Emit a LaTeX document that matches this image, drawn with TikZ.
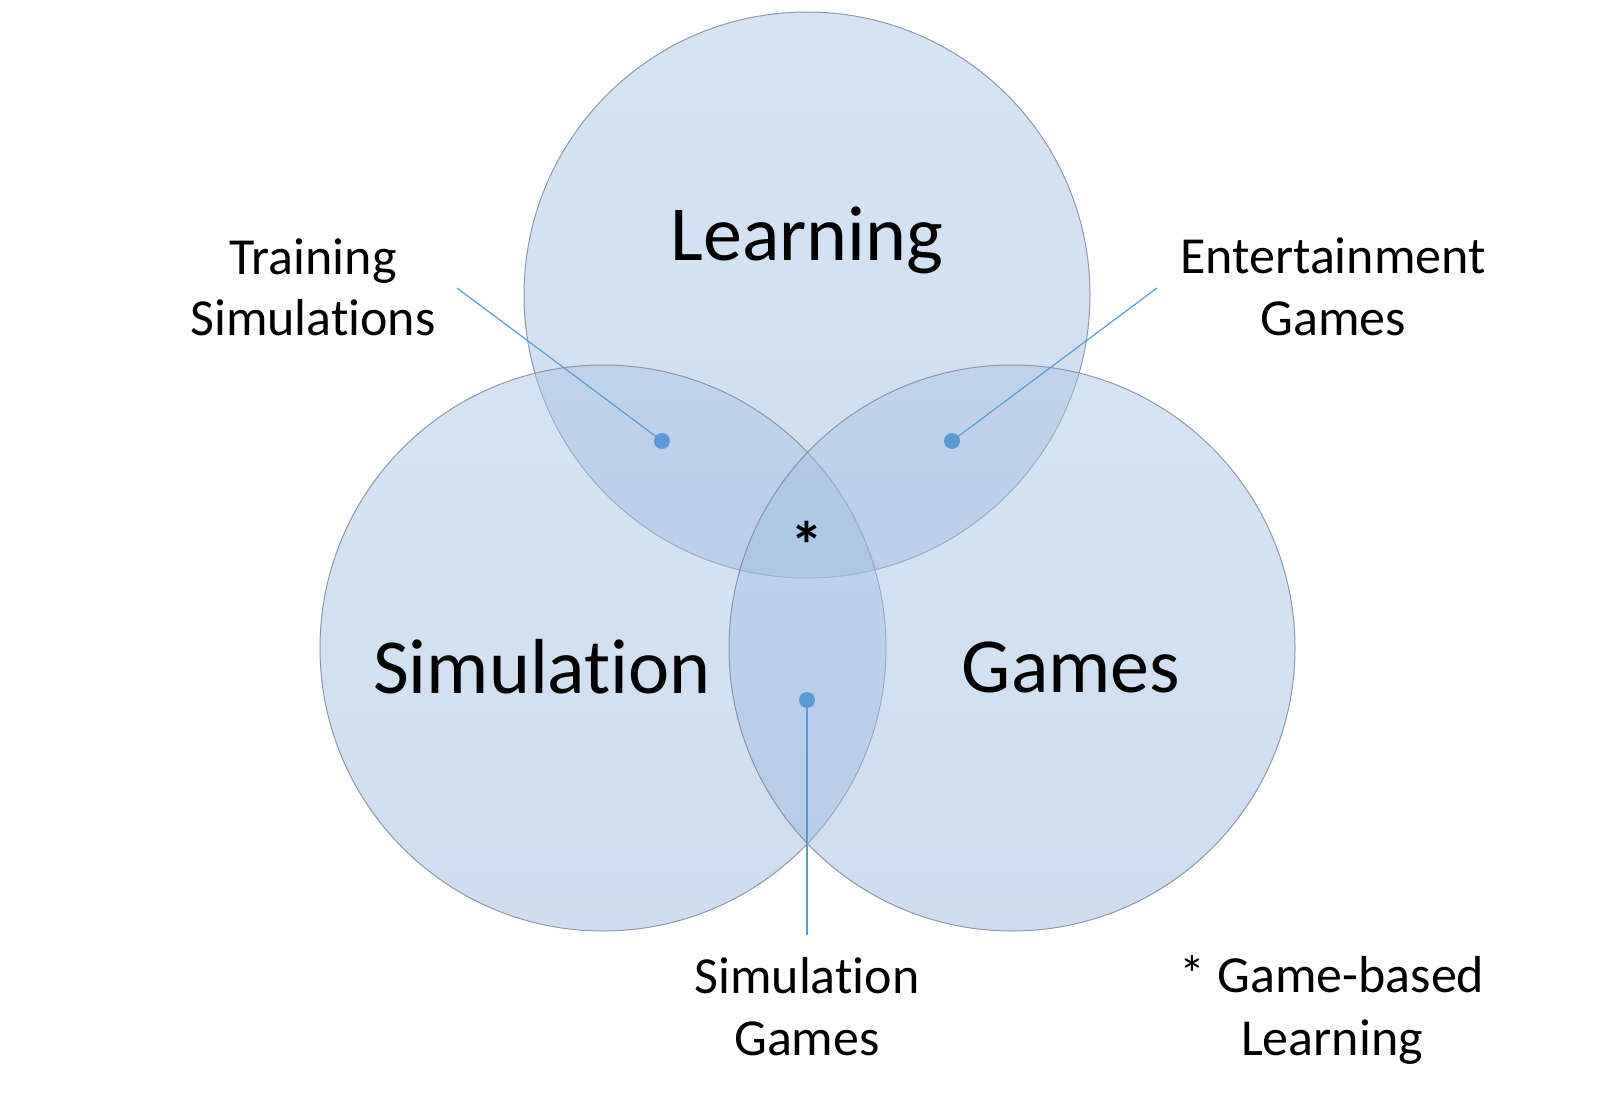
\documentclass[tikz,border=0pt]{standalone}
\usepackage{fontspec}
\setmainfont{Carlito}[Ligatures=NoCommon]
\definecolor{circtop}{RGB}{168,196,230}
\definecolor{circbot}{RGB}{150,182,222}
\definecolor{circline}{RGB}{120,132,150}
\definecolor{leader}{RGB}{91,155,213}
\tikzset{
  venn/.style={circle, minimum size=566pt, inner sep=0pt, top color=circtop, bottom color=circbot, fill opacity=0.46, draw=circline, draw opacity=0.8, line width=1pt},
  bigtxt/.style={font=\fontsize{78}{94}\selectfont, inner sep=0pt},
  smalltxt/.style={font=\fontsize{52}{62}\selectfont, inner sep=0pt, anchor=base},
  dotnode/.style={circle, fill=leader, minimum size=16pt, inner sep=0pt},
  leaderline/.style={draw=leader, line width=1.2pt}
}
\begin{document}
\begin{tikzpicture}[x=1pt, y=-1pt]
\useasboundingbox (0,0) rectangle (1614,1102);
\fill[white] (0,0) rectangle (1614,1102);
% circles
\node[venn] (learn) at (807,295) {};
\node[venn] (sim) at (603,648) {};
\node[venn] (games) at (1012,648) {};
% big labels
\node[bigtxt] (tlearn) at (807,240) {Learning};
\node[bigtxt] (tsim) at (542,667) {Simulation};
\node[bigtxt] (tgames) at (1071,667) {Games};
% star
\node[inner sep=0pt, font=\fontsize{66}{80}\bfseries\selectfont, anchor=base] (star) at (807,568) {*};
% dots
\node[dotnode] (d1) at (662,441) {};
\node[dotnode] (d2) at (952,441) {};
\node[dotnode] (d3) at (807,700) {};
% leader ends
\coordinate (e1) at (457,288);
\coordinate (e2) at (1157,288);
\coordinate (e3) at (807,935);
\draw[leaderline] (d1.center) -- (e1);
\draw[leaderline] (d2.center) -- (e2);
\draw[leaderline] (d3.center) -- (e3);
% small labels
\node[smalltxt] (ts1) at (313,274) {Training};
\node[smalltxt] (ts2) at (313,335) {Simulations};
\node[smalltxt] (te1) at (1333,273) {Entertainment};
\node[smalltxt] (te2) at (1333,335) {Games};
\node[smalltxt] (tg1) at (807,993) {Simulation};
\node[smalltxt] (tg2) at (807,1055) {Games};
\node[smalltxt] (tb1) at (1332,992) {* Game-based};
\node[smalltxt] (tb2) at (1332,1055) {Learning};
\end{tikzpicture}
\end{document}
